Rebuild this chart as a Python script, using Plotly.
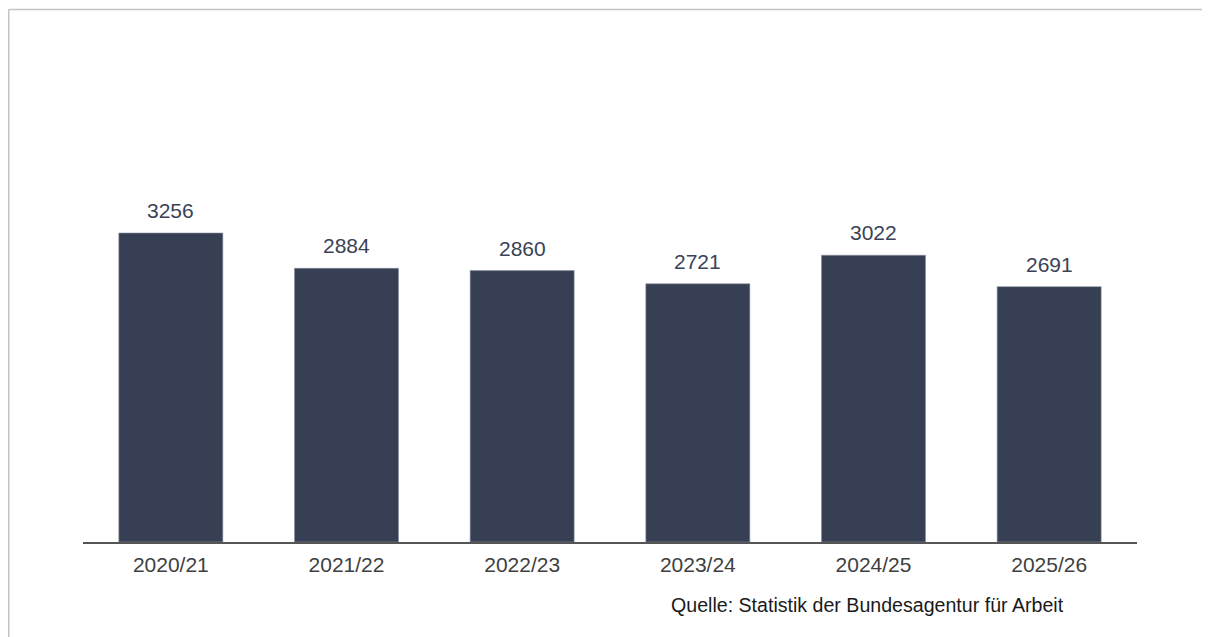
import plotly.graph_objects as go

categories = ["2020/21", "2021/22", "2022/23", "2023/24", "2024/25", "2025/26"]
values = [3256, 2884, 2860, 2721, 3022, 2691]
source_text = "Quelle: Statistik der Bundesagentur für Arbeit"

# page body adds an 8px margin, so the figure is sized to fit the window
W, H = 1202, 629
ml, mr, mt, mb = 75, 73, 32, 95
PW, PH = W - ml - mr, H - mt - mb

FONT = "Liberation Sans, Arial, sans-serif"

fig = go.Figure(go.Bar(
    x=categories, y=values,
    marker=dict(color="#373f54", line=dict(color="#8a909c", width=0.6)),
    hoverinfo="skip",
))

label_annotations = [
    dict(x=c, y=v, text=str(v), xref="x", yref="y",
         yanchor="bottom", xanchor="center", yshift=9, showarrow=False,
         font=dict(family=FONT, size=21, color="#3a4257"))
    for c, v in zip(categories, values)
]

source_annotation = dict(
    text=source_text, xref="paper", yref="paper",
    x=(1058 - ml) / PW, y=-(597 - (H - mb)) / PH,
    xanchor="right", yanchor="middle", showarrow=False,
    font=dict(family=FONT, size=19.6, color="#1a1a1a"),
)

fig.update_layout(
    width=W, height=H,
    margin=dict(l=ml, r=mr, t=mt, b=mb),
    paper_bgcolor="white", plot_bgcolor="white",
    bargap=0.408,
    showlegend=False,
    font=dict(family=FONT, color="#404040"),
    xaxis=dict(
        showline=True, linecolor="#555555", linewidth=2,
        showgrid=False, ticks="", ticklabelstandoff=3,
        tickfont=dict(family=FONT, size=21, color="#404040"),
        fixedrange=True,
    ),
    yaxis=dict(range=[0, 5290], visible=False, showgrid=False, fixedrange=True),
    annotations=label_annotations + [source_annotation],
    shapes=[
        dict(type="line", xref="paper", yref="paper",
             x0=-(ml - 0.75) / PW, x1=(W - ml + 2) / PW,
             y0=1 + (mt - 1.5) / PH, y1=1 + (mt - 1.5) / PH,
             line=dict(color="#c4c4c4", width=1.5)),
        dict(type="line", xref="paper", yref="paper",
             x0=-(ml - 0.75) / PW, x1=-(ml - 0.75) / PW,
             y0=1 + (mt - 1.5) / PH, y1=-(mb + 2) / PH,
             line=dict(color="#c4c4c4", width=1.5)),
    ],
)

fig.write_html(
    "out.html",
    config={"displayModeBar": False},
    post_script="document.documentElement.style.overflow='hidden';document.body.style.overflow='hidden';",
)
